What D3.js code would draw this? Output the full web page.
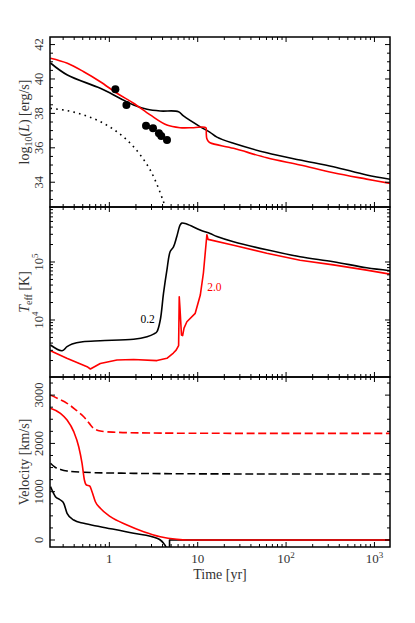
<!DOCTYPE html>
<html><head><meta charset="utf-8">
<script src="https://cdn.jsdelivr.net/npm/d3@7"></script>
<style>
body{margin:0;background:#fff;}
</style></head>
<body>
<svg id="c" width="415" height="623" font-family="'Liberation Serif', 'DejaVu Serif', 'Times New Roman', serif"></svg>
<script>
// ---------- data ----------
const xTicks = [1, 10, 100, 1000];
const lumTicks = [34, 36, 38, 40, 42];
const teffTicks = [1e4, 1e5];
const velTicks = [0, 1000, 2000, 3000];

// luminosity panel: [time yr, log10 L]
const lumBlack = [[0.2156,40.93],[0.335,40.23],[0.79,39.46],[1.33,38.87],[1.88,38.49],[2.67,38.24],[3.77,38.14],[6.07,38.10],[6.9,37.85],[10.7,37.22],[13.8,36.9],[16.5,36.62],[25.4,36.26],[60.5,35.71],[144,35.29],[343,34.90],[816,34.42],[1500,34.17]];
const lumRed = [[0.2156,41.2],[0.335,40.91],[0.513,40.42],[0.79,39.84],[1.22,39.17],[1.88,38.59],[2.9,37.91],[4.48,37.32],[6.3,37.17],[9,37.17],[12.35,37.17],[12.5,36.85],[12.65,36.55],[13.1,36.4],[13.8,36.29],[25.4,35.97],[60.5,35.42],[144,35.0],[343,34.55],[816,34.18],[1500,33.93]];
const lumDotted = [[0.2156,38.29],[0.334,38.16],[0.513,37.91],[0.79,37.52],[1.22,36.93],[1.88,36.06],[2.9,34.71],[4.1,32.86],[4.35,32.4]];
const obsTime = [1.17, 1.56, 2.6, 3.12, 3.64, 3.87, 4.49];
const obsLum = [39.40, 38.49, 37.28, 37.13, 36.84, 36.68, 36.45];

// effective temperature panel: [time yr, log10 Teff]
const teffBlack = [[0.2156,3.569],[0.292,3.47],[0.332,3.54],[0.379,3.586],[0.5,3.625],[0.79,3.643],[1.88,3.667],[2.67,3.712],[3.2,3.76],[3.46,3.80],[3.77,4.0],[4.1,4.46],[4.48,4.86],[4.88,5.18],[5.32,5.26],[5.8,5.44],[6.33,5.64],[6.6,5.67],[7.5,5.655],[10.65,5.55],[13.8,5.49],[16.5,5.44],[25.4,5.35],[60.5,5.21],[144,5.09],[343,5.005],[816,4.90],[1500,4.85]];
const teffRed = [[0.2156,3.47],[0.33,3.34],[0.56,3.195],[0.61,3.155],[0.79,3.25],[1.22,3.31],[1.88,3.32],[3.46,3.30],[4.48,3.34],[5.3,3.43],[5.7,3.48],[6.08,3.56],[6.18,4.40],[6.3,4.2],[6.55,3.74],[6.75,3.73],[7.0,3.86],[7.54,3.97],[9.37,4.115],[10.7,4.43],[11.6,4.81],[12.7,5.47],[13.1,5.39],[25.4,5.29],[60.5,5.15],[144,5.03],[343,4.95],[816,4.86],[1500,4.79]];
const teffLabels = [{t:2.25, logT:3.95, text:"0.2", c:"#000"}, {t:12.8, logT:4.495, text:"2.0", c:"#ff0000"}];

// velocity panel: [time yr, km/s]
const velBlack = [[0.2156,1104],[0.2454,897],[0.2795,828],[0.3048,760],[0.3323,553],[0.3954,414],[0.5129,345],[0.791,276],[1.883,139],[3.456,35],[3.77,0],[4.108,-68],[4.37,-145],[4.58,-270],[4.8,-300],[4.8,0],[1500,0]];
const velRed = [[0.2156,2727],[0.2795,2623],[0.3323,2484],[0.3954,2243],[0.4502,1932],[0.4911,1588],[0.522,1242],[0.5497,1139],[0.5995,1118],[0.637,1000],[0.695,793],[0.791,656],[1.026,482],[1.583,311],[2.443,172],[3.77,68],[5.82,14],[7.53,0],[1500,0]];
const velBlackDash = [[0.2156,1590],[0.2454,1500],[0.28,1460],[0.3323,1428],[0.513,1402],[1.88,1380],[10,1370],[1500,1366]];
const velRedDash = [[0.2156,3000],[0.3323,2830],[0.42,2690],[0.513,2553],[0.59,2420],[0.665,2312],[0.79,2257],[1.22,2230],[3,2215],[1500,2208]];

// ---------- layout ----------
const svg = d3.select("#c");
const FONT = "'Liberation Serif', 'DejaVu Serif', 'Times New Roman', serif";
const TXT = "#333";
const L = 50, R = 390;
const panels = [{top:37,bot:207},{top:207,bot:377},{top:377,bot:547}];
const x = d3.scaleLog().domain([0.213, 1500]).range([L, R]);
const y1 = d3.scaleLinear().domain([32.56, 42.44]).range([panels[0].bot, panels[0].top]);
const y2 = d3.scaleLog().domain([Math.pow(10,3.017), Math.pow(10,5.948)]).range([panels[1].bot, panels[1].top]);
const y3 = d3.scaleLinear().domain([-145, 3375]).range([panels[2].bot, panels[2].top]);

const defs = svg.append("defs");
panels.forEach((p,i)=>{
  defs.append("clipPath").attr("id","clip"+i).append("rect")
    .attr("x",L).attr("y",p.top).attr("width",R-L).attr("height",p.bot-p.top);
});

function drawLine(g, data, ys, color, dash, yTransform, curve){
  const line = d3.line()
    .x(d=>x(d[0])).y(d=>ys(yTransform ? yTransform(d[1]) : d[1]))
    .curve(curve || d3.curveCatmullRom.alpha(0.5));
  g.append("path").datum(data).attr("d",line)
    .attr("fill","none").attr("stroke",color).attr("stroke-width",1.6)
    .attr("stroke-dasharray",dash||null).attr("stroke-linejoin","round");
}
function txt(sel){ return sel.attr("font-family",FONT).attr("fill",TXT); }

// ---------- panel 1 ----------
const g1 = svg.append("g").attr("clip-path","url(#clip0)");
drawLine(g1, lumDotted, y1, "#000", "1.6,4.2", null);
drawLine(g1, lumBlack, y1, "#000", null, null);
drawLine(g1, lumRed, y1, "#ff0000", null, null);
g1.selectAll("circle").data(obsTime).join("circle")
  .attr("cx",d=>x(d)).attr("cy",(d,i)=>y1(obsLum[i])).attr("r",4).attr("fill","#000");

// ---------- panel 2 ----------
const pow10 = v=>Math.pow(10,v);
const g2 = svg.append("g").attr("clip-path","url(#clip1)");
drawLine(g2, teffBlack, y2, "#000", null, pow10);
drawLine(g2, teffRed, y2, "#ff0000", null, pow10, d3.curveLinear);
svg.selectAll("text.lab").data(teffLabels).join("text").attr("class","lab")
  .attr("x",d=>x(d.t)).attr("y",d=>y2(pow10(d.logT)))
  .attr("font-size",11.5).attr("font-family",FONT).attr("fill",d=>d.c).text(d=>d.text);

// ---------- panel 3 ----------
const g3 = svg.append("g").attr("clip-path","url(#clip2)");
drawLine(g3, velBlackDash, y3, "#000", "8,3.6", null);
drawLine(g3, velRedDash, y3, "#ff0000", "8,3.6", null);
drawLine(g3, velBlack, y3, "#000", null, null, d3.curveMonotoneX);
drawLine(g3, velRed, y3, "#ff0000", null, null, d3.curveMonotoneX);

// ---------- axes / ticks ----------
const ax = svg.append("g");
const xMinor = [];
[0.1,1,10,100,1000].forEach(dec=>{for(let k=2;k<=9;k++){const v=dec*k; if(v>=0.213&&v<=1500) xMinor.push(v);}});
const majLen = 5, minLen = 3;
function tick(x1,y1_,x2,y2_){ax.append("line").attr("x1",x1).attr("y1",y1_).attr("x2",x2).attr("y2",y2_).attr("stroke","#000").attr("stroke-width",1);}
panels.forEach(p=>{
  xTicks.forEach(v=>{tick(x(v),p.top,x(v),p.top+majLen); tick(x(v),p.bot,x(v),p.bot-majLen);});
  xMinor.forEach(v=>{tick(x(v),p.top,x(v),p.top+minLen); tick(x(v),p.bot,x(v),p.bot-minLen);});
});
function yTicks(scale, majors, minors){
  majors.forEach(v=>{const yy=scale(v); tick(L,yy,L+majLen,yy); tick(R,yy,R-majLen,yy);});
  minors.forEach(v=>{const yy=scale(v); tick(L,yy,L+minLen,yy); tick(R,yy,R-minLen,yy);});
}
yTicks(y1, lumTicks, d3.range(33,42.44,0.5).filter(v=>v%2!==0));
const teffMinor=[]; [1e3,1e4,1e5].forEach(dec=>{for(let k=2;k<=9;k++){const v=dec*k; if(v>=y2.domain()[0]&&v<=y2.domain()[1]) teffMinor.push(v);}});
yTicks(y2, teffTicks, teffMinor);
yTicks(y3, velTicks, d3.range(0,3375,250).filter(v=>v%1000!==0));

panels.forEach(p=>{
  ax.append("rect").attr("x",L).attr("y",p.top).attr("width",R-L).attr("height",p.bot-p.top)
    .attr("fill","none").attr("stroke","#000").attr("stroke-width",1.5);
});

// x tick labels
const xl = svg.append("g");
xTicks.forEach(v=>{
  const t = txt(xl.append("text")).attr("x",x(v)).attr("y",563).attr("text-anchor","middle").attr("font-size",13);
  if(v<100){ t.text(String(v)); }
  else { t.append("tspan").text("10"); t.append("tspan").attr("dy",-5).attr("font-size",9).text(String(Math.round(Math.log10(v)))); }
});
txt(svg.append("text")).attr("x",220).attr("y",579).attr("text-anchor","middle").attr("font-size",14).text("Time [yr]");

// y tick labels (rotated)
function yLabel(yy, build){
  const t = txt(svg.append("text")).attr("transform",`translate(43,${yy}) rotate(-90)`).attr("text-anchor","middle").attr("font-size",12.5);
  build(t);
}
lumTicks.forEach(v=>yLabel(y1(v), t=>t.text(String(v))));
teffTicks.forEach(v=>yLabel(y2(v), t=>{t.append("tspan").text("10"); t.append("tspan").attr("dy",-5).attr("font-size",9).text(String(Math.round(Math.log10(v))));}));
velTicks.forEach(v=>yLabel(y3(v), t=>t.text(String(v))));

// y axis titles
function yTitle(yy, build){
  const t = txt(svg.append("text")).attr("transform",`translate(29,${yy}) rotate(-90)`).attr("text-anchor","middle").attr("font-size",14);
  build(t);
}
yTitle((panels[0].top+panels[0].bot)/2, t=>{
  t.append("tspan").text("log");
  t.append("tspan").attr("dy",3).attr("font-size",10).text("10");
  t.append("tspan").attr("dy",-3).text("(");
  t.append("tspan").attr("font-style","italic").text("L");
  t.append("tspan").text(") [erg/s]");
});
yTitle((panels[1].top+panels[1].bot)/2, t=>{
  t.append("tspan").attr("font-style","italic").text("T");
  t.append("tspan").attr("dy",3).attr("font-size",10).text("eff");
  t.append("tspan").attr("dy",-3).text(" [K]");
});
yTitle((panels[2].top+panels[2].bot)/2, t=>t.text("Velocity [km/s]"));
</script>
</body></html>
